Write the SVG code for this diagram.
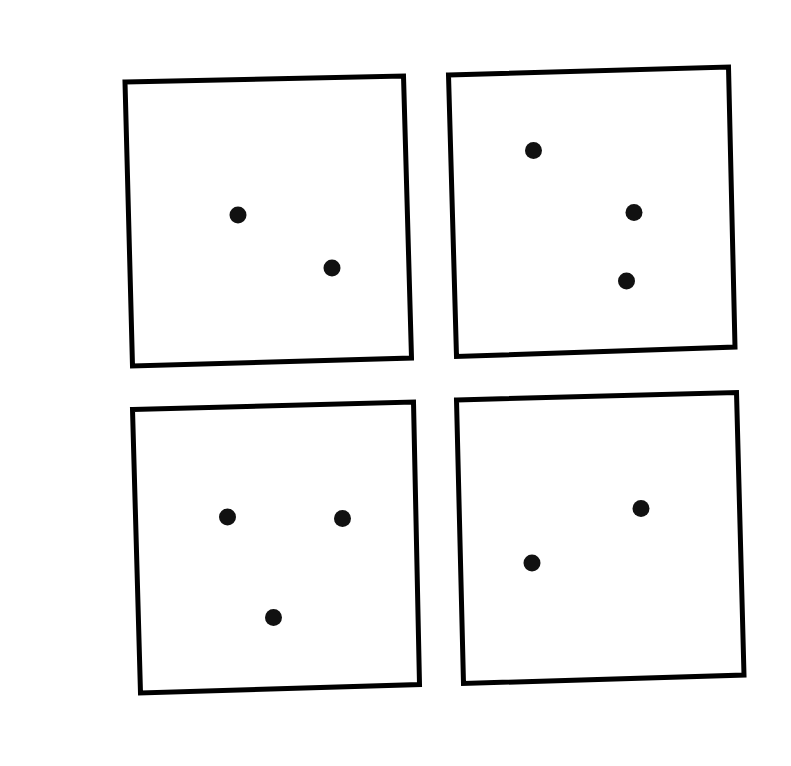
<svg xmlns="http://www.w3.org/2000/svg" width="791" height="766" viewBox="0 0 791 766">
<style>
.box{fill:none;stroke:#000;stroke-width:5;stroke-linejoin:miter}
.dot{fill:#111}
</style>
<rect width="791" height="766" fill="#fff"/>
<g id="square1">
<polygon class="box" points="125,82 403.5,76 411.5,358 132.5,366"/>
<circle class="dot" cx="238" cy="215" r="8.5"/>
<circle class="dot" cx="332" cy="268" r="8.5"/>
</g>
<g id="square2">
<polygon class="box" points="448.5,75 728.5,67 735,347 456.5,356.5"/>
<circle class="dot" cx="533.5" cy="150.5" r="8.5"/>
<circle class="dot" cx="634" cy="212.5" r="8.5"/>
<circle class="dot" cx="626.5" cy="281" r="8.5"/>
</g>
<g id="square3">
<polygon class="box" points="132.5,409.5 413.5,402 419.5,684.5 140.5,693"/>
<circle class="dot" cx="227.5" cy="517" r="8.5"/>
<circle class="dot" cx="342.5" cy="518.5" r="8.5"/>
<circle class="dot" cx="273.5" cy="617.5" r="8.5"/>
</g>
<g id="square4">
<polygon class="box" points="456.5,400 736.5,392.5 744,675 463.5,683.5"/>
<circle class="dot" cx="641" cy="508.5" r="8.5"/>
<circle class="dot" cx="532" cy="563" r="8.5"/>
</g>
<g id="connectors"/>
</svg>
